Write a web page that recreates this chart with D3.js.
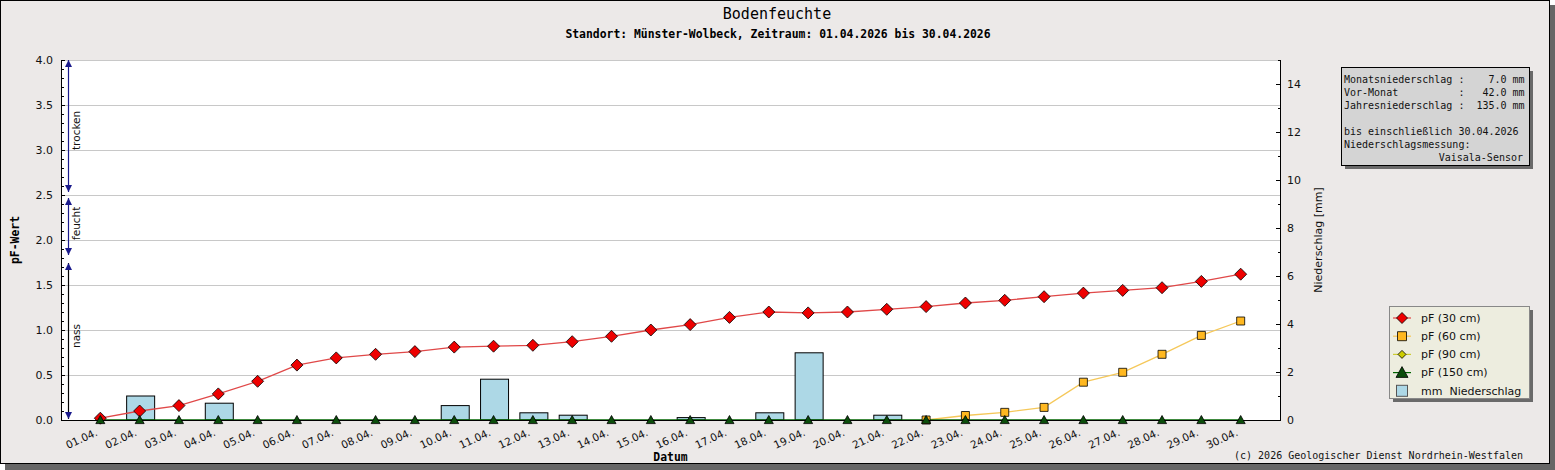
<!DOCTYPE html>
<html>
<head>
<meta charset="utf-8">
<script src="https://cdn.jsdelivr.net/npm/d3@7"></script>
<style>
body{margin:0;background:#fff;}
svg{display:block;}
.mono{font-family:"DejaVu Sans Mono",monospace;}
.sans{font-family:"DejaVu Sans",sans-serif;}
</style>
</head>
<body>
<script>
// Bodenfeuchte Münster-Wolbeck, April 2026

var days = ["01.04.","02.04.","03.04.","04.04.","05.04.","06.04.","07.04.","08.04.","09.04.","10.04.",
            "11.04.","12.04.","13.04.","14.04.","15.04.","16.04.","17.04.","18.04.","19.04.","20.04.",
            "21.04.","22.04.","23.04.","24.04.","25.04.","26.04.","27.04.","28.04.","29.04.","30.04."];

var pf30 = [0.02,0.10,0.16,0.29,0.43,0.61,0.69,0.73,0.76,0.81,
            0.82,0.83,0.87,0.93,1.00,1.06,1.14,1.20,1.19,1.20,
            1.23,1.26,1.30,1.33,1.37,1.41,1.44,1.47,1.54,1.62];

var pf60 = [null,null,null,null,null,null,null,null,null,null,
            null,null,null,null,null,null,null,null,null,null,
            null,0.00,0.05,0.085,0.14,0.42,0.53,0.73,0.94,1.10];

// no visible values for 90 cm
var pf90 = [null,null,null,null,null,null,null,null,null,null,
            null,null,null,null,null,null,null,null,null,null,
            null,null,null,null,null,null,null,null,null,null];

var pf150 = [0,0,0,0,0,0,0,0,0,0,0,0,0,0,0,0,0,0,0,0,0,0,0,0,0,0,0,0,0,0];

var rain = [0,1.0,0,0.7,0,0,0,0,0,0.6,
            1.7,0.3,0.2,0,0,0.1,0,0.3,2.8,0,
            0.2,0,0,0,0,0,0,0,0,0];

var pfTicks = [0,0.5,1.0,1.5,2.0,2.5,3.0,3.5,4.0];
var mmTicks = [0,2,4,6,8,10,12,14];

// zones on the left (pF ranges)
var zoneNames = ["trocken","feucht","nass"];
var zoneTop = [4.0,2.5,1.8];
var zoneBottom = [2.5,1.8,0.0];
var zoneLabelAt = [3.0,2.0,0.8];

var infoLines = ["Monatsniederschlag :    7.0 mm",
                 "Vor-Monat          :   42.0 mm",
                 "Jahresniederschlag :  135.0 mm",
                 "",
                 "bis einschließlich 30.04.2026",
                 "Niederschlagsmessung:"];
var infoLast = "Vaisala-Sensor";

var legendNames = ["pF (30 cm)","pF (60 cm)","pF (90 cm)","pF (150 cm)","mm  Niederschlag"];

var W = 1555, H = 470;
var L = 61, R = 1280, T = 60, B = 420;

var svg = d3.select("body").append("svg").attr("width", W).attr("height", H);

// frame + shadow
svg.append("rect").attr("x",5).attr("y",5).attr("width",1550).attr("height",465).attr("fill","#666");
svg.append("rect").attr("x",0.5).attr("y",0.5).attr("width",1549).attr("height",463)
   .attr("fill","#ece9e8").attr("stroke","#000");

var x = d3.scaleLinear().domain([0,31]).range([L,R]);
var y = d3.scaleLinear().domain([0,4]).range([B,T]);
var y2 = d3.scaleLinear().domain([0,15]).range([B,T]);

svg.append("rect").attr("x",L).attr("y",T).attr("width",R-L).attr("height",B-T).attr("fill","#fff");

// grid
svg.append("g").selectAll("line").data(pfTicks).enter().append("line")
   .attr("x1",L).attr("x2",R).attr("y1",function(d){return y(d);}).attr("y2",function(d){return y(d);})
   .attr("stroke","#c8c8c8").attr("stroke-width",1).attr("shape-rendering","crispEdges");

// bars
var bw = 28;
svg.append("g").selectAll("rect").data(rain.map(function(v,i){return {v:v,i:i};}).filter(function(d){return d.v>0;}))
   .enter().append("rect")
   .attr("x",function(d){return x(d.i+1)-bw/2+1;})
   .attr("y",function(d){return y2(d.v);})
   .attr("width",bw)
   .attr("height",function(d){return B-y2(d.v);})
   .attr("fill","#add8e6").attr("stroke","#000").attr("stroke-width",1);

function series(vals, lineColor){
  var pts = vals.map(function(v,i){return {v:v,i:i};}).filter(function(d){return d.v!==null;});
  var line = d3.line().x(function(d){return x(d.i+1);}).y(function(d){return y(d.v);});
  if(pts.length>1){
    svg.append("path").datum(pts).attr("d",line).attr("fill","none")
       .attr("stroke",lineColor).attr("stroke-width",1.3);
  }
  return pts;
}

var p30 = series(pf30,"#e04848");
var p60 = series(pf60,"#f5c85a");
var p90 = series(pf90,"#cccc33");
var p150 = series(pf150,"#006400");

function diamondPath(r){return "M0,"+(-r)+"L"+r+",0L0,"+r+"L"+(-r)+",0Z";}
function squarePath(r){return "M"+(-r)+","+(-r)+"h"+(2*r)+"v"+(2*r)+"h"+(-2*r)+"Z";}
function triPath(r){return "M0,"+(-r)+"L"+r+","+(r*0.8)+"L"+(-r)+","+(r*0.8)+"Z";}

function markers(pts, path, fill){
  svg.append("g").selectAll("path").data(pts).enter().append("path")
     .attr("d",path)
     .attr("transform",function(d){return "translate("+x(d.i+1)+","+y(d.v)+")";})
     .attr("fill",fill).attr("stroke","#000").attr("stroke-width",0.8)
     .attr("stroke-linejoin","round");
}
markers(p30, diamondPath(6), "#ee0000");
markers(p60, squarePath(4), "#ffb820");
markers(p90, diamondPath(4), "#cccc00");

// axes
svg.append("line").attr("x1",L).attr("x2",R).attr("y1",B+0.5).attr("y2",B+0.5).attr("stroke","#000");
svg.append("line").attr("x1",L+0.5).attr("x2",L+0.5).attr("y1",T).attr("y2",B).attr("stroke","#000");
svg.append("line").attr("x1",R+0.5).attr("x2",R+0.5).attr("y1",T).attr("y2",B+1).attr("stroke","#000");

markers(p150, triPath(4.5), "#0b4d0b");

// left ticks
var gl = svg.append("g");
gl.selectAll("line").data(d3.range(0,41)).enter().append("line")
  .attr("x1",L).attr("x2",function(d){return d%5===0?L+4:L+3;})
  .attr("y1",function(d){return Math.round(y(d/10))+0.5;}).attr("y2",function(d){return Math.round(y(d/10))+0.5;})
  .attr("stroke","#000");
gl.selectAll("text").data(pfTicks).enter().append("text")
  .attr("class","sans").attr("x",L-8).attr("y",function(d){return y(d);}).attr("dy","0.35em")
  .attr("text-anchor","end").attr("font-size",11).attr("fill","#111")
  .text(function(d){return d3.format(".1f")(d);});

// right ticks
var gr = svg.append("g");
gr.selectAll("line").data(d3.range(0,16)).enter().append("line")
  .attr("x1",function(d){return d%2===0?R-4:R-2;}).attr("x2",R)
  .attr("y1",function(d){return Math.round(y2(d))+0.5;}).attr("y2",function(d){return Math.round(y2(d))+0.5;})
  .attr("stroke","#000");
gr.selectAll("text").data(mmTicks).enter().append("text")
  .attr("class","sans").attr("x",R+7).attr("y",function(d){return y2(d);}).attr("dy","0.35em")
  .attr("font-size",11).attr("fill","#111").text(function(d){return d;});

// x labels
svg.append("g").selectAll("text").data(days).enter().append("text")
  .attr("class","sans").attr("font-size",10.5).attr("fill","#111").attr("text-anchor","end")
  .attr("transform",function(d,i){return "translate("+(x(i+1)-2)+","+(B+15)+") rotate(-25)";})
  .text(function(d){return d;});

// zone arrows
var za = svg.append("g");
var ax = 68.5;
zoneNames.forEach(function(n,k){
  var y1 = y(zoneTop[k]) + (k===0?0:3), y2b = y(zoneBottom[k]) - (k===2?0:3);
  if(k===2){y1 = y(zoneTop[k])+5; y2b = y(zoneBottom[k])-1;}
  za.append("line").attr("x1",ax).attr("x2",ax).attr("y1",y1).attr("y2",y2b)
    .attr("stroke",k===2?"#000":"#1a1a8c").attr("stroke-width",1.2);
  za.append("path").attr("d","M"+ax+","+(y1)+"l3.5,7h-7Z").attr("fill","#1a1a8c");
  za.append("path").attr("d","M"+ax+","+(y2b)+"l3.5,-7h-7Z").attr("fill","#1a1a8c");
  za.append("text").attr("class","sans").attr("font-size",10.5).attr("fill","#111")
    .attr("transform","translate("+(ax+11)+","+y(zoneLabelAt[k])+") rotate(-90)").text(n);
});

// titles
svg.append("text").attr("class","mono").attr("x",777).attr("y",19).attr("text-anchor","middle")
   .attr("font-size",15).attr("fill","#000").text("Bodenfeuchte");
svg.append("text").attr("class","mono").attr("x",778).attr("y",38).attr("text-anchor","middle")
   .attr("font-size",11.4).attr("font-weight","bold").attr("fill","#000")
   .text("Standort: Münster-Wolbeck, Zeitraum: 01.04.2026 bis 30.04.2026");
svg.append("text").attr("class","mono").attr("x",(L+R)/2).attr("y",461).attr("text-anchor","middle")
   .attr("font-size",11.4).attr("font-weight","bold").text("Datum");
svg.append("text").attr("class","mono").attr("transform","translate(19,"+((T+B)/2)+") rotate(-90)")
   .attr("text-anchor","middle").attr("font-size",11.4).attr("font-weight","bold").text("pF-Wert");
svg.append("text").attr("class","sans").attr("transform","translate(1322,"+((T+B)/2)+") rotate(-90)")
   .attr("text-anchor","middle").attr("font-size",11).attr("fill","#111").text("Niederschlag [mm]");
svg.append("text").attr("class","mono").attr("x",1523).attr("y",459).attr("text-anchor","end")
   .attr("font-size",10).attr("fill","#111").text("(c) 2026 Geologischer Dienst Nordrhein-Westfalen");

// info box
var ib = svg.append("g");
ib.append("rect").attr("x",1345).attr("y",71).attr("width",188).attr("height",98).attr("fill","#6a6a6a");
ib.append("rect").attr("x",1341.5).attr("y",67.5).attr("width",188).attr("height",98).attr("fill","#d4d4d4").attr("stroke","#000");
ib.selectAll("text.l").data(infoLines).enter().append("text").attr("class","mono")
  .attr("x",1344).attr("y",function(d,i){return 83+i*13;}).attr("font-size",10).attr("fill","#111")
  .style("white-space","pre").text(function(d){return d;});
ib.append("text").attr("class","mono").attr("x",1523).attr("y",83+6*13).attr("text-anchor","end")
  .attr("font-size",10).attr("fill","#111").text(infoLast);

// legend
var lg = svg.append("g");
lg.append("rect").attr("x",1393).attr("y",310).attr("width",140).attr("height",92).attr("fill","#6a6a6a");
lg.append("rect").attr("x",1389.5).attr("y",306.5).attr("width",140).attr("height",92).attr("fill","#ededdf").attr("stroke","#888");
var lgCol = [["#e04848","#ee0000",diamondPath(5.5)],["#f5c85a","#ffb820",squarePath(4.5)],
             ["#cccc33","#cccc00",diamondPath(4)],["#006400","#0b4d0b",triPath(6)]];
legendNames.forEach(function(n,k){
  var ly = 318 + k*18.2, mx = 1402;
  if(k<4){
    lg.append("line").attr("x1",mx-9).attr("x2",mx+9).attr("y1",ly).attr("y2",ly).attr("stroke",lgCol[k][0]).attr("stroke-width",1.2);
    lg.append("path").attr("d",lgCol[k][2]).attr("transform","translate("+mx+","+ly+")")
      .attr("fill",lgCol[k][1]).attr("stroke","#000").attr("stroke-width",0.8);
  } else {
    lg.append("rect").attr("x",mx-5.5).attr("y",ly-5.5).attr("width",11).attr("height",11)
      .attr("fill","#add8e6").attr("stroke","#555");
  }
  lg.append("text").attr("class","sans").attr("x",1421).attr("y",ly).attr("dy","0.35em")
    .attr("font-size",11).attr("fill","#111").style("white-space","pre").text(n);
});
</script>
</body>
</html>
